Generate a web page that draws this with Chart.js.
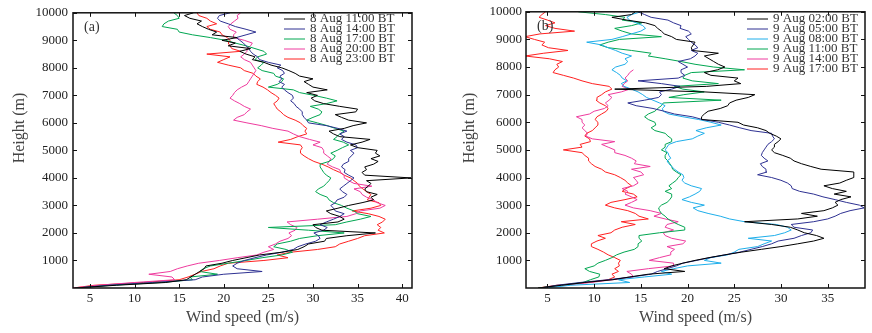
<!DOCTYPE html>
<html>
<head>
<meta charset="utf-8">
<script src="https://cdn.jsdelivr.net/npm/chart.js@4.4.0/dist/chart.umd.min.js"></script>
<style>
  body { margin: 0; background: #fff; width: 872px; height: 333px; overflow: hidden; position: relative; }
  .box { position: absolute; top: 0; width: 436px; height: 333px; }
</style>
</head>
<body>
<div class="box" style="left:0"><canvas id="chartA"></canvas></div>
<div class="box" style="left:436px"><canvas id="chartB"></canvas></div>
<script>
// heights (m), shared by every profile
const heights = [
  0, 100, 200, 300, 400, 500, 600, 700, 800, 900,
  1000, 1100, 1200, 1300, 1400, 1500, 1600, 1700, 1800, 1900,
  2000, 2100, 2200, 2300, 2400, 2500, 2600, 2700, 2800, 2900,
  3000, 3100, 3200, 3300, 3400, 3500, 3600, 3700, 3800, 3900,
  4000, 4100, 4200, 4300, 4400, 4500, 4600, 4700, 4800, 4900,
  5000, 5100, 5200, 5300, 5400, 5500, 5600, 5700, 5800, 5900,
  6000, 6100, 6200, 6300, 6400, 6500, 6600, 6700, 6800, 6900,
  7000, 7100, 7200, 7300, 7400, 7500, 7600, 7700, 7800, 7900,
  8000, 8100, 8200, 8300, 8400, 8500, 8600, 8700, 8800, 8900,
  9000, 9100, 9200, 9300, 9400, 9500, 9600, 9700, 9800, 9900,
  10000
];

// (a) 8 Aug wind speed (m/s)
const aug8_1100 = [
  3.3, 8, 13.5, 15.8, 16.3, 16.8, 17.3, 17.8, 18, 19.8,
  21, 22.5, 24, 26.5, 28.3, 29, 29.5, 31.3, 31.5, 33.8,
  37, 31, 30.3, 30, 32.8, 33.5, 33, 32, 31.5, 32.8,
  34, 35.5, 36.8, 36.5, 37.2, 36, 35.8, 36.2, 36.5, 36,
  41, 35.8, 35.5, 36, 35.8, 36.8, 37.3, 36.5, 37.5, 37,
  37.2, 35, 34.2, 35.5, 36.4, 33, 32.3, 31.8, 33.5, 34.5,
  36, 34, 33.2, 32.5, 34.8, 35, 33, 31.2, 30.2, 29.8,
  30.5, 29.3, 31.6, 30, 29.5, 29, 30, 28.5, 28, 27.3,
  26.5, 25.3, 24.5, 23.2, 23.5, 22.5, 21.8, 23, 20.5, 21.3,
  19.8, 21.5, 18.7, 19.2, 18.3, 17.6, 17, 17.5, 16.2, 15.6,
  16.6
];
const aug8_1400 = [
  3.5, 7, 12, 16.8, 17.6, 20, 24.3, 21.5, 21, 21.5,
  22.3, 23.5, 24.8, 26.5, 27.8, 28.3, 29.2, 30.3, 30.8, 30.6,
  30.1, 31.2, 31.6, 30.8, 31.5, 32.3, 33, 33.5, 32.5, 32.3,
  32, 32.5, 32.7, 33.5, 33.8, 33.3, 33, 33.4, 33.8, 34.2,
  34.6, 34, 33.5, 33.6, 33.2, 33.4, 34, 34, 34.3, 34.6,
  34.2, 35, 34.8, 33.8, 33.2, 33.5, 33, 33.8, 32.8, 31.5,
  29.5, 29.3, 29, 28.8, 28.8, 28.5, 28.1, 27.9, 27.5, 27.8,
  27.7, 27.2, 26.8, 26.5, 26.8, 26.2, 26.5, 26.3, 26.8, 26.6,
  26, 26.4, 25, 24, 23.8, 23.3, 23, 22.8, 22.5, 22.2,
  21.8, 21.4, 22.5, 23.6, 22.5, 21.3, 20.5, 19.6, 19.3, 19.5,
  20.7
];
const aug8_1700 = [
  3.5, 7.5, 13, 16.5, 16.2, 19.3, 17.3, 17.7, 18.5, 20.5,
  22.5, 24.3, 26.5, 27.7, 27, 25.6, 26, 27.5, 28.5, 30.5,
  33.5, 29.5, 25, 32.5, 33.8, 35.3, 36.5, 35, 34.6, 33.8,
  33.2, 32.3, 31.8, 31.6, 30.8, 30.3, 30.6, 31.2, 31.5, 31.8,
  32, 31.5, 31.2, 31, 30.8, 30.8, 31.8, 32.3, 32.5, 32,
  32.7, 33.3, 34, 33.4, 32.3, 32.7, 33, 33.5, 32.5, 31.6,
  30.5, 29.3, 30, 30.8, 31, 30.6, 29.7, 31.5, 32.7, 31.5,
  30.1, 28.5, 27.8, 25, 26, 26.5, 26.7, 25.8, 25.6, 24.3,
  23.8, 24.2, 24.5, 23.5, 23.8, 24.8, 24.5, 23.5, 22.5, 21.3,
  20.2, 18.5, 16.5, 15, 14.8, 13.1, 13.3, 13.8, 15, 14.8,
  14.4
];
const aug8_2000 = [
  3.1, 6, 10, 14.5, 14.2, 11.6, 14, 14.8, 15.9, 17.2,
  19.5, 21.5, 23.7, 24.5, 25.6, 25, 25.8, 26.3, 27.2, 27.6,
  27.3, 28, 28.2, 27.5, 27.1, 30.5, 33.8, 34.8, 35.3, 37.5,
  38.1, 37.2, 36.8, 36, 35.5, 35.3, 34.6, 36.6, 34.6, 34,
  33.5, 33.5, 33.1, 33, 32.2, 31.6, 31.8, 32, 31.6, 31.2,
  31.2, 31, 30, 30.8, 29.6, 28.5, 27.8, 27.2, 25.5, 24.2,
  22.6, 21.1, 21.5, 22.3, 22.6, 23, 22.3, 21.8, 21.2, 20.7,
  21, 21.2, 21.5, 22, 22.6, 22.8, 23, 23.2, 23.4, 23.6,
  23.4, 23.2, 23, 22.3, 21.9, 22.3, 22.6, 22.6, 23, 23.2,
  22.3, 21.1, 21.1, 21.4, 20.7, 20.5, 20.8, 21.2, 21.6, 21.5,
  21.9
];
const aug8_2300 = [
  3.1, 5.5, 11, 15, 16, 16.8, 17.5, 18.9, 19.6, 20.5,
  24.5, 27.2, 26, 27.5, 30.5, 32.5, 33, 34, 35, 35.8,
  38, 37.3, 37.6, 37.2, 37.8, 38.1, 37.4, 36.2, 34.4, 36.5,
  37.6, 37.4, 36.1, 36.3, 36.5, 36, 35.6, 35.2, 35, 34.6,
  34.2, 33.5, 33, 32.3, 31.7, 31, 30.1, 29.5, 29, 28.6,
  28.6, 28.8, 28.6, 26.1, 27.5, 28.3, 29.3, 29.1, 29.3, 28.9,
  28.6, 28, 27.2, 26.7, 26.4, 26, 25.8, 25.6, 26, 26.2,
  25.8, 25.3, 24.9, 24.4, 23.7, 23.8, 24.1, 23.6, 23.3, 22.3,
  21.9, 20.5, 19.3, 20, 20.7, 18.1, 21.9, 20.9, 20.7, 20.5,
  20.7, 20.4, 19.8, 19.6, 18.5, 18.1, 19.2, 18.5, 18.1, 17.2,
  17
];

// (b) 9 Aug wind speed (m/s)
const aug9_0200 = [
  4, 6.5, 9, 12, 13.8, 15.8, 19.7, 17.5, 18.3, 19.5,
  20.8, 22.3, 24, 25.8, 27.9, 30, 31.8, 33.5, 34.6, 33.8,
  32.5, 31.8, 31, 29, 26.1, 31.8, 33.9, 32.2, 34.6, 35.5,
  36.1, 35.8, 36.4, 37.5, 35.7, 37, 35.5, 34.6, 36.3, 37,
  37.8, 37.8, 37.8, 34.3, 33.2, 32.2, 31.4, 31, 30.2, 29.3,
  29, 29.3, 29.3, 29.7, 30, 29.5, 28.8, 28.4, 27.5, 26,
  25.4, 21.5, 21.5, 21.8, 22.2, 23.5, 24.3, 24.5, 25.2, 26.5,
  27.2, 21.8, 12.2, 22, 25.7, 25, 25.4, 22.5, 21.8, 23.2,
  24, 23.3, 22.8, 22.3, 21.8, 23.3, 20.5, 20.4, 20.6, 20.8,
  18.8, 18.3, 17.5, 17.2, 16.8, 16.5, 15.5, 13.5, 11.9, 14,
  14.4
];
const aug9_0500 = [
  4.3, 6, 8.5, 11.5, 14, 16.1, 16.8, 17.8, 18.8, 19.5,
  21, 22.4, 24, 25.6, 26.8, 28, 29, 29.7, 31.4, 32.2,
  33.2, 33.4, 31.4, 31.1, 33.5, 35, 35.8, 36.4, 37.4, 38.9,
  38.4, 37, 35.8, 34.5, 33.5, 32, 31.2, 31.1, 30.7, 30,
  29, 27.5, 28.5, 28.4, 28, 27.8, 28.6, 28.2, 27.9, 28,
  28.2, 28.4, 28.6, 29, 29.3, 29.1, 29, 26.8, 25.6, 24.5,
  23.3, 21.6, 20.5, 18.6, 17.5, 16.3, 14.5, 13.6, 15.4, 16.9,
  17.2, 17, 18.3, 19.2, 17.2, 14.7, 19, 19.7, 19.3, 19.3,
  20, 19.5, 19, 20.3, 20.8, 21.1, 20.4, 21.1, 20.8, 20.4,
  20.1, 19.8, 20.4, 20.1, 19.2, 19.3, 18.5, 17.9, 16.1, 15.4,
  14.7
];
const aug9_0800 = [
  4.8, 7.5, 13.8, 12.6, 15.4, 18.3, 17.2, 18.5, 20, 23.6,
  21.8, 22.5, 24.3, 25, 25.5, 27.5, 28.2, 29, 26.5, 29.3,
  30.4, 31.1, 30.7, 29.5, 26.1, 24.5, 23.5, 22.2, 21.1, 20.6,
  21.8, 20.4, 19.4, 20.2, 20.8, 21.3, 21.5, 20.4, 19.7, 19.4,
  19.6, 19.5, 19, 18.6, 18.3, 18, 17.8, 18.2, 18, 17.9,
  17.6, 17.8, 18, 18.8, 20.5, 21.1, 21.8, 20.9, 22, 23.6,
  22.5, 21.2, 19.5, 18, 17.4, 17.3, 17.6, 17, 16.3, 15.6,
  15.2, 14.7, 14, 13.2, 12.9, 13.5, 13, 12.8, 12.4, 11.9,
  12.3, 13.3, 13.6, 13.3, 14, 13, 12.3, 11.5, 10.8, 9.2,
  11.9, 13, 14, 15, 15.5, 15.2, 14.5, 13.8, 13.5, 14,
  15
];
const aug9_1100 = [
  4, 6.5, 8.8, 9.6, 10.5, 10.6, 9.5, 9, 10, 10.4,
  11.2, 11.9, 12.4, 13.2, 14.3, 14.7, 14.7, 15.1, 14.8, 14.8,
  17, 19.7, 19.7, 19, 18.4, 17.9, 17.6, 17.2, 17, 16.9,
  17.2, 17.8, 18.1, 18.3, 18.3, 17.6, 18.3, 18, 18.4, 18.8,
  19, 19.3, 18.8, 18.4, 18.3, 18.1, 17.9, 17.6, 17.6, 17.8,
  17.2, 17.6, 17.6, 18.3, 18.3, 17.9, 17.6, 16.5, 16.1, 16.6,
  16.5, 15.8, 15.4, 15.8, 16.5, 16.8, 17.2, 17.4, 23.6, 18,
  19.6, 21.8, 19.5, 18.6, 23.3, 20.5, 19.5, 19.7, 20.4, 26.1,
  22.8, 20.8, 19.3, 17.6, 15.8, 16.1, 14, 11.5, 10.6, 11.5,
  12.7, 17.2, 14, 13, 12.2, 14, 15.1, 13, 13.3, 11.2,
  8.3
];
const aug9_1400 = [
  4.4, 6.8, 9.6, 12, 14.2, 14, 13.5, 15.8, 18.5, 18.5,
  15.9, 17, 18.2, 18.2, 18.6, 17.8, 19.5, 19.8, 18.3, 17.6,
  17.4, 18.5, 17.6, 17.8, 19, 17.6, 16.4, 17.2, 16, 14.2,
  13.3, 14, 14.6, 14, 13.3, 13.6, 13, 14.2, 14.7, 14.5,
  14.2, 15.3, 15, 14, 16, 14.3, 14.5, 14, 13.3, 12.2,
  12.2, 11.5, 10.8, 12.2, 9.8, 9.1, 9.3, 9, 8.7, 9,
  8.7, 8.7, 8.1, 9.5, 10, 11.1, 11.5, 11.2, 11.6, 11.9,
  11.5, 12.9, 13.8, 13, 13.2, 13.6, 13.3, 13.6, 13.8, 14.2,
  null, null, null, null, null, null, null, null, null, null,
  null, null, null, null, null, null, null, null, null, null,
  null
];
const aug9_1700 = [
  4, 6, 9.4, 11.5, 12.2, 11.9, 12.6, 12.2, 12.7, 12.6,
  12.8, 12.2, 11.5, 11, 10.4, 9.7, 9.7, 10.3, 11.2, 10.4,
  11.8, 12.2, 13, 14.4, 12.9, 15.8, 14.8, 14.4, 13.6, 12.2,
  11.2, 11.8, 13.3, 14.6, 14.2, 13, 13.4, 14, 13.6, 13.3,
  12.8, 12.2, 11.2, 10.8, 10.1, 9.7, 9.4, 9.4, 9, 8.7,
  6.7, 8.7, 8.5, 9.6, 9.5, 9, 9.2, 9.8, 10.1, 10.4,
  10.4, 10.1, 10.3, 10.8, 11.3, 11.5, 11.2, 10.6, 10.2, 10.3,
  10.8, 11.2, 11.9, 11.6, 9.8, 8.7, 7.8, 6.7, 5.6, 5.8,
  6.2, 6, 6.6, 5.2, 2.6, 4.6, 7.2, 5.1, 4.4, 4.7,
  3.6, 2.6, 4.2, 7.9, 5.8, 4.8, 5.8, 5, 4.1, 4.4,
  4.8
];

const labelsA = ['8 Aug 11:00 BT', '8 Aug 14:00 BT', '8 Aug 17:00 BT', '8 Aug 20:00 BT', '8 Aug 23:00 BT'];
const labelsB = ['9 Aug 02:00 BT', '9 Aug 05:00 BT', '9 Aug 08:00 BT', '9 Aug 11:00 BT', '9 Aug 14:00 BT', '9 Aug 17:00 BT'];
const colorsA = ['#000000', '#2e3192', '#00a651', '#ee3b9e', '#ff2020'];
const colorsB = ['#000000', '#2e3192', '#1eaeea', '#00a651', '#ee3b9e', '#ff2020'];

const xTicksA = [5, 10, 15, 20, 25, 30, 35, 40];
const xTicksB = [5, 10, 15, 20, 25, 30, 35];
const yTicks = [1000, 2000, 3000, 4000, 5000, 6000, 7000, 8000, 9000, 10000];

Chart.defaults.font.family = '"Liberation Serif", "Times New Roman", serif';
Chart.defaults.color = '#222';

// frame with inward ticks, legend, panel tag and y title
const frame = {
  id: 'frame',
  afterDraw(chart, args, o) {
    const { ctx, chartArea: a, scales: { x, y } } = chart;
    ctx.save();
    ctx.strokeStyle = '#111';
    ctx.lineWidth = 1.5;
    ctx.strokeRect(a.left, a.top, a.right - a.left, a.bottom - a.top);
    ctx.lineWidth = 1;
    const t = 4;
    ctx.beginPath();
    x.ticks.forEach(tk => {
      const px = Math.round(x.getPixelForValue(tk.value)) + 0.5;
      ctx.moveTo(px, a.bottom); ctx.lineTo(px, a.bottom - t);
      ctx.moveTo(px, a.top); ctx.lineTo(px, a.top + t);
    });
    y.ticks.forEach(tk => {
      const py = Math.round(y.getPixelForValue(tk.value)) + 0.5;
      ctx.moveTo(a.left, py); ctx.lineTo(a.left + t, py);
      ctx.moveTo(a.right, py); ctx.lineTo(a.right - t, py);
    });
    ctx.stroke();

    ctx.font = '13px "Liberation Serif"';
    ctx.textBaseline = 'middle';
    ctx.textAlign = 'left';
    chart.data.datasets.forEach((ds, i) => {
      const ly = o.legendY + i * o.legendGap;
      ctx.strokeStyle = ds.borderColor;
      ctx.beginPath();
      ctx.moveTo(o.legendX, ly); ctx.lineTo(o.legendX + 21, ly);
      ctx.stroke();
      ctx.fillStyle = '#333';
      ctx.fillText(ds.label, o.legendX + 26, ly);
    });

    ctx.font = '14px "Liberation Serif"';
    ctx.fillText(o.tag, a.left + 11, a.top + 15);

    ctx.translate(o.titleX, 128);
    ctx.rotate(-Math.PI / 2);
    ctx.textAlign = 'center';
    ctx.font = '16px "Liberation Serif"';
    ctx.fillStyle = '#444';
    ctx.fillText('Height (m)', 0, 0);
    ctx.restore();
  }
};

function makeChart(id, series, labels, colors, xMin, xMax, xTicks, p) {
  const datasets = series.map((vals, i) => ({
    label: labels[i],
    data: heights.map((h, j) => ({ x: vals[j], y: h })).filter(d => d.x !== null),
    borderColor: colors[i],
    borderWidth: 1,
    pointRadius: 0,
    showLine: true,
    fill: false,
    tension: 0
  }));
  return new Chart(document.getElementById(id), {
    type: 'scatter',
    data: { datasets },
    plugins: [frame],
    options: {
      responsive: true,
      maintainAspectRatio: false,
      animation: false,
      layout: { padding: { left: 0, right: p.right, top: p.top, bottom: 0 } },
      plugins: {
        legend: { display: false },
        tooltip: { enabled: false },
        frame: p
      },
      scales: {
        x: {
          type: 'linear',
          min: xMin,
          max: xMax,
          afterBuildTicks: s => { s.ticks = xTicks.map(v => ({ value: v })); },
          afterFit: s => { s.height = 45; },
          grid: { display: false, drawTicks: false },
          border: { display: false },
          ticks: { font: { size: 13 }, padding: 3, maxRotation: 0, callback: v => String(v) },
          title: { display: true, text: 'Wind speed (m/s)', font: { size: 16 }, color: '#444', padding: { top: 0, bottom: 6 } }
        },
        y: {
          type: 'linear',
          min: 0,
          max: 10000,
          afterBuildTicks: s => { s.ticks = yTicks.map(v => ({ value: v })); },
          afterFit: s => { s.width = p.yWidth; },
          grid: { display: false, drawTicks: false },
          border: { display: false },
          ticks: { font: { size: 13 }, padding: p.yPad, callback: v => String(v) }
        }
      }
    }
  });
}

makeChart('chartA', [aug8_1100, aug8_1400, aug8_1700, aug8_2000, aug8_2300], labelsA, colorsA,
  3.1, 41.1, xTicksA,
  { right: 24, top: 8, yWidth: 73, yPad: 5, legendX: 284, legendY: 19, legendGap: 10, tag: '(a)', titleX: 20 });

makeChart('chartB', [aug9_0200, aug9_0500, aug9_0800, aug9_1100, aug9_1400, aug9_1700], labelsB, colorsB,
  2.7, 39, xTicksB,
  { right: 7, top: 7, yWidth: 90, yPad: 4, legendX: 311, legendY: 19, legendGap: 10, tag: '(b)', titleX: 34 });
</script>
</body>
</html>
